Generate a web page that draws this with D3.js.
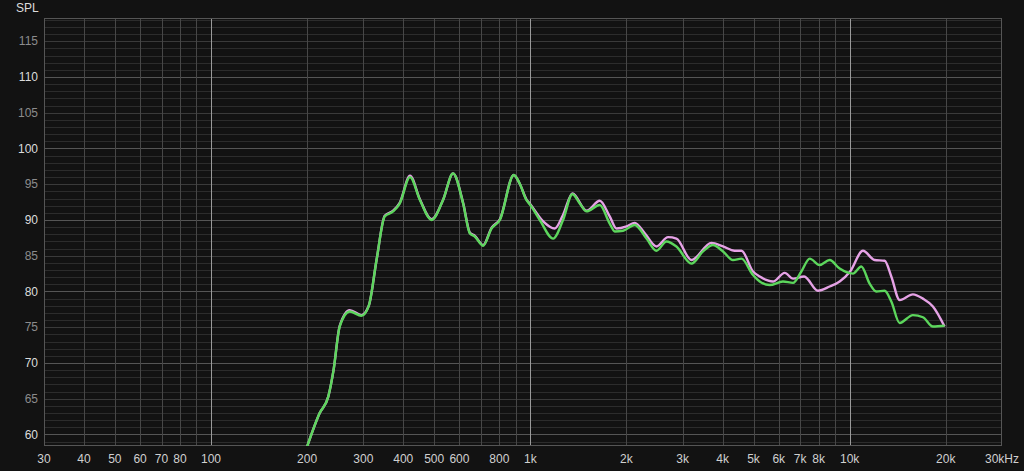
<!DOCTYPE html>
<html>
<head>
<meta charset="utf-8">
<script src="https://cdn.jsdelivr.net/npm/d3@7"></script>
<style>
  html, body { margin: 0; padding: 0; background: #121212; }
  svg { display: block; }
</style>
</head>
<body>
<svg id="chart" width="1024" height="471"></svg>
<script>
// ---- data ----
const greenFreq = [200,219,233,242,253,272,296,312,330,350,372,390,420,451,491,533,573,616,647,670,712,756,803,888,926,972,1000,1071,1179,1266,1355,1429,1500,1650,1773,1839,1953,2123,2311,2483,2669,2868,3196,3475,3733,4013,4313,4584,4981,5228,5618,6183,6650,7060,7500,8054,8658,9306,10243,10879,11550,12120,12870,13505,14340,15780,16960,18230,19830];
const greenDb   = [58.3,63.0,65.3,69.0,75.1,77.2,76.6,78.0,84.4,90.5,91.2,92.3,96.0,92.8,90.0,92.8,96.5,92.3,88.1,87.7,86.4,88.8,90.0,96.3,95.1,92.8,92.1,90.0,87.4,90.0,93.6,92.3,91.2,92.1,89.5,88.4,88.5,89.3,87.4,85.7,87.0,86.3,83.9,85.6,86.5,85.6,84.4,84.6,82.3,81.4,80.9,81.4,81.2,82.8,84.6,83.7,84.4,83.2,82.5,83.5,81.1,80.0,80.1,78.6,75.6,76.7,76.4,75.1,75.2];

const pinkFreq = [200,219,233,242,253,272,296,312,330,350,372,390,420,451,491,533,573,616,647,670,712,756,803,888,926,972,1000,1097,1193,1266,1355,1500,1650,1773,1862,2003,2123,2286,2483,2700,2868,3196,3690,4013,4365,4584,4981,5228,5754,6260,6650,7203,7958,8658,9306,10037,11010,11970,12870,13505,14340,15780,16960,18230,19830];
const pinkDb   = [58.3,63.0,65.3,69.0,75.2,77.4,76.7,78.0,84.4,90.6,91.3,92.4,96.2,92.9,90.1,92.8,96.5,92.4,88.2,87.8,86.5,88.9,90.1,96.3,95.1,92.9,92.2,89.8,88.8,90.7,93.7,91.3,92.7,90.5,88.8,89.1,89.6,88.1,86.3,87.6,87.4,84.4,86.8,86.3,85.7,85.7,82.8,82.1,81.4,82.6,81.8,82.1,80.1,80.7,81.4,82.8,85.7,84.4,84.3,82.1,78.8,79.6,79.0,77.9,75.1];

const xGrid = [40,50,60,70,80,90,100,200,300,400,500,600,700,800,900,1000,2000,3000,4000,5000,6000,7000,8000,9000,10000,20000];
const xDecades = [100,1000,10000];
const xTickVals = [30,40,50,60,70,80,100,200,300,400,500,600,800,1000,2000,3000,4000,5000,6000,7000,8000,10000,20000,30000];
const xTickText = ["30","40","50","60","70","80","100","200","300","400","500","600","800","1k","2k","3k","4k","5k","6k","7k","8k","10k","20k","30kHz"];
const yTickVals = [60,65,70,75,80,85,90,95,100,105,110,115];

// ---- layout ----
const L = 44, R = 1002, T = 18, B = 446;
const svg = d3.select("#chart");
svg.append("rect").attr("width",1024).attr("height",471).attr("fill","#121212");

const x = d3.scaleLog().domain([30,30000]).range([L,R]);
const y = d3.scaleLinear().domain([58.39,118.25]).range([B,T]);

svg.append("rect").attr("x",L).attr("y",T).attr("width",R-L).attr("height",B-T).attr("fill","#121212");

// horizontal grid (1 dB)
const hLines = d3.range(59,119,1);
svg.append("g").selectAll("line").data(hLines).join("line")
  .attr("x1",L).attr("x2",R)
  .attr("y1",d=>Math.round(y(d))+0.5).attr("y2",d=>Math.round(y(d))+0.5)
  .attr("stroke",d=> d%10===0 ? "#555" : (d%5===0 ? "#3a3a3a" : "#2c2c2c"))
  .attr("stroke-width",1);

// vertical grid
svg.append("g").selectAll("line").data(xGrid).join("line")
  .attr("x1",d=>Math.round(x(d))+0.5).attr("x2",d=>Math.round(x(d))+0.5)
  .attr("y1",T).attr("y2",B)
  .attr("stroke",d=> xDecades.includes(d) ? "#9a9a9a" : "#474747")
  .attr("stroke-width",1);

// border
svg.append("rect").attr("x",L+0.5).attr("y",T+0.5).attr("width",R-L-1).attr("height",B-T-1)
  .attr("fill","none").attr("stroke","#555");

// axes labels
const font = "Liberation Sans, Arial, sans-serif";
svg.append("g").selectAll("text").data(yTickVals).join("text")
  .attr("x",38).attr("y",d=>y(d)).attr("dy","0.35em")
  .attr("text-anchor","end").attr("font-family",font).attr("font-size",12)
  .attr("fill",d=> d%10===0 ? "#dcdcdc" : "#8c8c8c")
  .text(d=>d);

svg.append("g").selectAll("text").data(xTickVals).join("text")
  .attr("x",(d)=>x(d)).attr("y",463)
  .attr("text-anchor","middle").attr("font-family",font).attr("font-size",12)
  .attr("fill","#d0d0d0")
  .text((d,i)=>xTickText[i]);

svg.append("text").attr("x",16).attr("y",12).attr("font-family",font).attr("font-size",12)
  .attr("fill","#dcdcdc").text("SPL");

// curves
svg.append("clipPath").attr("id","clip").append("rect")
  .attr("x",L).attr("y",T).attr("width",R-L).attr("height",B-T);

const line = d3.line().x(d=>x(d[0])).y(d=>y(d[1])).curve(d3.curveMonotoneX);
const pinkPts = pinkFreq.map((f,i)=>[f,pinkDb[i]]);
const greenPts = greenFreq.map((f,i)=>[f,greenDb[i]]);

const g = svg.append("g").attr("clip-path","url(#clip)");
g.append("path").attr("d",line(pinkPts)).attr("fill","none")
  .attr("stroke","#e6a2e6").attr("stroke-width",2.4).attr("stroke-linejoin","round");
g.append("path").attr("d",line(greenPts)).attr("fill","none")
  .attr("stroke","#5cd65c").attr("stroke-width",2.4).attr("stroke-linejoin","round");
</script>
</body>
</html>
